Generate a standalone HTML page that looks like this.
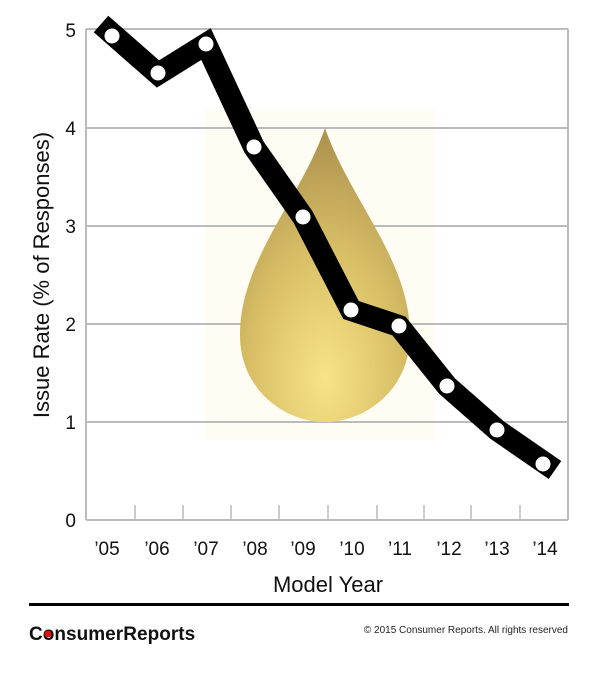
<!DOCTYPE html>
<html><head><meta charset="utf-8"><style>
html,body{margin:0;padding:0;background:#fff;width:600px;height:673px;overflow:hidden}
text{font-family:"Liberation Sans",sans-serif}
</style></head><body>
<svg width="600" height="673" viewBox="0 0 600 673" xmlns="http://www.w3.org/2000/svg">
<defs>
<radialGradient id="dg" cx="0.5" cy="0.85" r="0.8">
<stop offset="0" stop-color="#f8e387"/>
<stop offset="0.55" stop-color="#d8bf66"/>
<stop offset="1" stop-color="#b09550"/>
</radialGradient>
</defs>
<rect x="205" y="110" width="230" height="330" fill="#fffdf3"/>
<g stroke="#bbb" stroke-width="2">
<line x1="86" y1="29" x2="568" y2="29"/>
<line x1="86" y1="128" x2="568" y2="128"/>
<line x1="86" y1="226" x2="568" y2="226"/>
<line x1="86" y1="324" x2="568" y2="324"/>
<line x1="86" y1="422" x2="568" y2="422"/>
<line x1="86" y1="520" x2="568" y2="520"/>
<line x1="86" y1="29" x2="86" y2="520"/>
<line x1="568" y1="29" x2="568" y2="520"/>
<g stroke-width="1.5">
<line x1="135" y1="505" x2="135" y2="520"/><line x1="183" y1="505" x2="183" y2="520"/>
<line x1="231" y1="505" x2="231" y2="520"/><line x1="279" y1="505" x2="279" y2="520"/>
<line x1="328" y1="505" x2="328" y2="520"/><line x1="377" y1="505" x2="377" y2="520"/>
<line x1="424" y1="505" x2="424" y2="520"/><line x1="471" y1="505" x2="471" y2="520"/>
<line x1="520" y1="505" x2="520" y2="520"/>
</g></g>
<path d="M325 128 C300 200 240 260 240 335 C240 390 285 422 325 422 C365 422 410 390 410 335 C410 260 350 200 325 128 Z" fill="url(#dg)"/>
<polyline points="101,24 158,74 206,44 254,147 303,217 351,310 399,326 447,386 497,430 555,470" fill="none" stroke="#000" stroke-width="22" stroke-linejoin="miter" stroke-linecap="butt"/>
<g fill="#fff">
<circle cx="112" cy="36" r="7.5"/><circle cx="158" cy="73" r="7.5"/><circle cx="206" cy="44" r="7.5"/>
<circle cx="254" cy="147" r="7.5"/><circle cx="303" cy="217" r="7.5"/><circle cx="351" cy="310" r="7.5"/>
<circle cx="399" cy="326" r="7.5"/><circle cx="447" cy="386" r="7.5"/><circle cx="497" cy="430" r="7.5"/>
<circle cx="543" cy="464" r="7.5"/>
</g>
<g font-size="19" fill="#111" text-anchor="end">
<text x="76" y="37">5</text><text x="76" y="135">4</text><text x="76" y="233">3</text>
<text x="76" y="331">2</text><text x="76" y="429">1</text><text x="76" y="527">0</text>
</g>
<g font-size="19" fill="#111" text-anchor="middle">
<text x="107" y="555">’05</text><text x="157" y="555">’06</text><text x="206" y="555">’07</text>
<text x="255" y="555">’08</text><text x="303" y="555">’09</text><text x="352" y="555">’10</text>
<text x="400" y="555">’11</text><text x="449" y="555">’12</text><text x="497" y="555">’13</text>
<text x="545" y="555">’14</text>
<text x="328" y="592" font-size="22">Model Year</text>
<text transform="translate(49,275) rotate(-90)" font-size="22">Issue Rate (% of Responses)</text>
</g>
<rect x="29" y="603" width="540" height="3" fill="#000"/>
<text x="29" y="640" font-size="19" font-weight="bold" fill="#111" letter-spacing="-1.2" textLength="165">ConsumerReports</text>
<circle cx="48" cy="634" r="3.5" fill="#d11"/>
<text x="568" y="633" font-size="10" fill="#222" text-anchor="end">© 2015 Consumer Reports. All rights reserved</text>
</svg>
</body></html>
